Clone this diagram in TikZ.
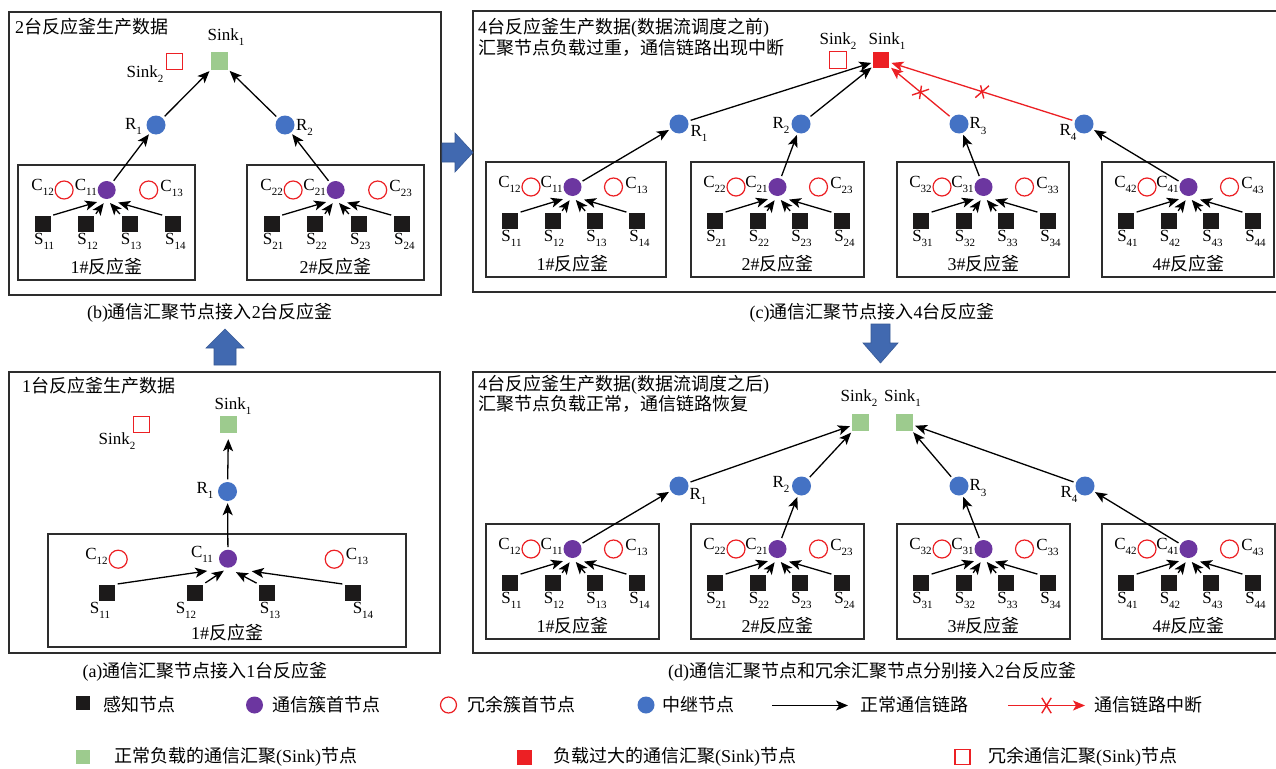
\documentclass[tikz,border=0pt]{standalone}
\usepackage{fontspec}
\setmainfont{Liberation Serif}
\newfontfamily\cjk{Noto Sans CJK SC}
\usetikzlibrary{arrows.meta,shapes.misc}

\definecolor{sensorblack}{RGB}{28,26,26}
\definecolor{cpurple}{RGB}{108,54,160}
\definecolor{rblue}{RGB}{68,114,196}
\definecolor{sgreen}{RGB}{157,203,142}
\definecolor{sred}{RGB}{236,32,36}
\definecolor{framegray}{RGB}{45,45,45}
\definecolor{blockblue}{RGB}{65,105,176}

\newcommand\zh[1]{{\cjk #1}}
\newcommand\subi[1]{\raisebox{-0.3em}{\fontsize{11}{12}\selectfont #1}}

\tikzset{
  lbl/.style={inner sep=0.5pt, font=\fontsize{17}{19}\selectfont},
  ttl/.style={inner sep=0pt, anchor=west, font=\fontsize{18}{20}\selectfont},
  capt/.style={inner sep=0pt, font=\fontsize{18}{20}\selectfont},
  sensor/.style={rectangle, fill=sensorblack, minimum size=16pt, inner sep=0pt},
  chead/.style={circle, fill=cpurple, minimum size=18pt, inner sep=0pt},
  credund/.style={circle, draw=sred, line width=1.2pt, minimum size=18pt, inner sep=0pt},
  relay/.style={circle, fill=rblue, minimum size=19pt, inner sep=0pt},
  sinkok/.style={rectangle, fill=sgreen, minimum size=17pt, inner sep=0pt},
  sinkbad/.style={rectangle, fill=sred, minimum size=16pt, inner sep=0pt},
  sinkspare/.style={rectangle, draw=sred, line width=1.2pt, minimum size=16pt, inner sep=0pt},
  panel/.style={draw=framegray, line width=1.3pt},
  reactorbox/.style={rectangle, draw=framegray, line width=1.3pt, inner sep=0pt, outer sep=0pt},
  tipshape/.style={-{Stealth[length=12pt,width=10pt,inset=3pt]}},
  link/.style={draw=black, line width=1.3pt, tipshape, shorten >=2pt, shorten <=2.5pt},
  brokenlink/.style={draw=sred, line width=1.3pt, tipshape, shorten >=2pt, shorten <=2.5pt},
  xmark/.style={cross out, draw=sred, line width=1.4pt, minimum width=8pt,
    minimum height=14pt, inner sep=0pt, sloped, pos=0.5},
  blockarrow/.style={fill=blockblue, draw=blockblue!85!black, line width=0.6pt},
  % one reactor: #1 index, #2 box width, #3 spacing factor
  pics/reactor/.style n args={3}{code={
    \node[reactorbox, minimum width=#2pt, minimum height=115pt, anchor=north west] (-box) at (0,0) {};
    \node[credund] (-C2) at ({45*#3},25) {};
    \node[chead]   (-C1) at ({86.5*#3},25) {};
    \node[credund] (-C3) at ({127.5*#3},25) {};
    \node[sensor] (-S1) at ({24*#3},59) {};
    \node[sensor] (-S2) at ({66.5*#3},59) {};
    \node[sensor] (-S3) at ({109*#3},59) {};
    \node[sensor] (-S4) at ({151*#3},59) {};
    \node[lbl, anchor=east] (-lC2) at ([yshift=3pt]-C2.west) {C\subi{#12}};
    \node[lbl, anchor=east] (-lC1) at ([yshift=3pt]-C1.west) {C\subi{#11}};
    \node[lbl, anchor=west] (-lC3) at ([xshift=1.5pt,yshift=2pt]-C3.east) {C\subi{#13}};
    \node[lbl, anchor=north] (-lS1) at ([xshift=1.5pt,yshift=-0.5pt]-S1.south) {S\subi{#11}};
    \node[lbl, anchor=north] (-lS2) at ([xshift=1.5pt,yshift=-0.5pt]-S2.south) {S\subi{#12}};
    \node[lbl, anchor=north] (-lS3) at ([xshift=1.5pt,yshift=-0.5pt]-S3.south) {S\subi{#13}};
    \node[lbl, anchor=north] (-lS4) at ([xshift=2.5pt,yshift=-0.5pt]-S4.south) {S\subi{#14}};
    \node[capt] (-name) at ({86.5*#3},102) {#1\#\zh{反应釜}};
    \draw[link, shorten >=10pt] (-S1.north east) -- (-C1.south);
    \draw[link, shorten >=5pt] (-S2.north east) -- (-C1.south);
    \draw[link, shorten >=5pt] (-S3.north west) -- (-C1.south);
    \draw[link, shorten >=12pt] (-S4.north west) -- (-C1.south);
  }}
}

\begin{document}
\begin{tikzpicture}[x=1pt,y=-1pt]
\useasboundingbox (0,0) rectangle (1276,768);
\fill[white] (0,0) rectangle (1276,768);

% ---------- (b) two reactors, one sink ----------
\draw[panel] (9,12) rectangle (441,295);
\node[ttl] (b-title) at (15,26.5) {2\zh{台反应釜生产数据}};
\node[sinkok] (b-sink1) at (219.5,61) {};
\node[sinkspare] (b-sink2) at (174.5,61.5) {};
\node[lbl] (b-sink1l) at (226,37) {Sink\subi{1}};
\node[lbl] (b-sink2l) at (145,74) {Sink\subi{2}};
\node[relay] (b-R1) at (156,125) {};
\node[relay] (b-R2) at (285,125) {};
\node[lbl] (b-R1l) at (133.5,126.5) {R\subi{1}};
\node[lbl] (b-R2l) at (304.5,127) {R\subi{2}};
\pic (b1) at (18,165) {reactor={1}{177}{1.025}};
\pic (b2) at (247,165) {reactor={2}{177}{1.025}};
\draw[link] (b1-C1) -- (b-R1);
\draw[link] (b2-C1) -- (b-R2);
\draw[link] (b-R1) -- (b-sink1);
\draw[link] (b-R2) -- (b-sink1);
\node[capt] (b-cap) at (210,312.5) {(b)\zh{通信汇聚节点接入}2\zh{台反应釜}};

% ---------- (c) four reactors, overloaded sink ----------
\draw[panel] (473,11) rectangle (1284,292);
\node[ttl] (c-title1) at (478,28) {4\zh{台反应釜生产数据}(\zh{数据流调度之前})};
\node[ttl] (c-title2) at (478,47.5) {\zh{汇聚节点负载过重，通信链路出现中断}};
\node[sinkbad] (c-sink1) at (881.3,59.7) {};
\node[sinkspare, minimum size=17pt] (c-sink2) at (837.8,60.3) {};
\node[lbl] (c-sink2l) at (838,41) {Sink\subi{2}};
\node[lbl] (c-sink1l) at (887,41) {Sink\subi{1}};
\node[relay] (c-R1) at (679,124) {};
\node[relay] (c-R2) at (801,124) {};
\node[relay] (c-R3) at (959,124) {};
\node[relay] (c-R4) at (1084,124) {};
\node[lbl] (c-R1l) at (699,133) {R\subi{1}};
\node[lbl] (c-R2l) at (781,125) {R\subi{2}};
\node[lbl] (c-R3l) at (978,126) {R\subi{3}};
\node[lbl] (c-R4l) at (1068,132) {R\subi{4}};
\pic (c1) at (486,162) {reactor={1}{180}{1}};
\pic (c2) at (691,162) {reactor={2}{173}{1}};
\pic (c3) at (897,162) {reactor={3}{172}{1}};
\pic (c4) at (1102,162) {reactor={4}{172}{1}};
\draw[link] (c1-C1) -- (c-R1);
\draw[link] (c2-C1) -- (c-R2);
\draw[link] (c3-C1) -- (c-R3);
\draw[link] (c4-C1) -- (c-R4);
\draw[link] (c-R1) -- (c-sink1);
\draw[link] (c-R2) -- (c-sink1);
\draw[brokenlink] (c-R3) -- node[xmark] {} (c-sink1);
\draw[brokenlink] (c-R4) -- node[xmark] {} (c-sink1);
\node[capt] (c-cap) at (872,312.5) {(c)\zh{通信汇聚节点接入}4\zh{台反应釜}};

% ---------- (a) one reactor ----------
\draw[panel] (9,372) rectangle (440,653);
\node[ttl] (a-title) at (22,386) {1\zh{台反应釜生产数据}};
\node[sinkok] (a-sink1) at (228.5,424.5) {};
\node[sinkspare] (a-sink2) at (141.5,424.5) {};
\node[lbl] (a-sink1l) at (233,406) {Sink\subi{1}};
\node[lbl] (a-sink2l) at (117,441) {Sink\subi{2}};
\node[relay] (a-R1) at (227.5,491.5) {};
\node[lbl] (a-R1l) at (205,490) {R\subi{1}};
\node[reactorbox, minimum width=358pt, minimum height=113pt, anchor=north west] (a-box) at (48,534) {};
\node[chead] (a-C1) at (228,558.7) {};
\node[credund] (a-C2) at (118.2,559.2) {};
\node[credund] (a-C3) at (334.2,559.2) {};
\node[lbl] (a-lC1) at (202,554) {C\subi{11}};
\node[lbl] (a-lC2) at (96.5,556) {C\subi{12}};
\node[lbl] (a-lC3) at (357,556) {C\subi{13}};
\node[sensor] (a-S1) at (107,592.5) {};
\node[sensor] (a-S2) at (195,592.5) {};
\node[sensor] (a-S3) at (267,592.5) {};
\node[sensor] (a-S4) at (353,592.5) {};
\node[lbl] (a-lS1) at (100,610) {S\subi{11}};
\node[lbl] (a-lS2) at (186,610) {S\subi{12}};
\node[lbl] (a-lS3) at (270,610) {S\subi{13}};
\node[lbl] (a-lS4) at (363,610) {S\subi{14}};
\node[capt] (a-name) at (227,633) {1\#\zh{反应釜}};
\draw[link, shorten >=21pt] (a-S1.north east) -- (a-C1.south);
\draw[link, shorten >=5pt] (a-S2.north east) -- (a-C1.south);
\draw[link, shorten >=9pt] (a-S3.north west) -- (a-C1.south);
\draw[link, shorten >=24pt] (a-S4.north west) -- (a-C1.south);
\draw[link] (a-C1) -- (a-R1);
\draw[link, shorten >=6pt] (a-R1) -- (a-sink1);
\node[capt] (a-cap) at (205,672) {(a)\zh{通信汇聚节点接入}1\zh{台反应釜}};

% ---------- (d) four reactors, two sinks ----------
\draw[panel] (473,372) rectangle (1284,653);
\node[ttl] (d-title1) at (478,385) {4\zh{台反应釜生产数据}(\zh{数据流调度之后})};
\node[ttl] (d-title2) at (478,404) {\zh{汇聚节点负载正常，通信链路恢复}};
\node[sinkok] (d-sink2) at (860.5,422.5) {};
\node[sinkok] (d-sink1) at (904.5,422) {};
\node[lbl] (d-sink2l) at (859,398) {Sink\subi{2}};
\node[lbl] (d-sink1l) at (902.5,398) {Sink\subi{1}};
\node[relay] (d-R1) at (679,486) {};
\node[relay] (d-R2) at (801.5,486) {};
\node[relay] (d-R3) at (959,486) {};
\node[relay] (d-R4) at (1085,486) {};
\node[lbl] (d-R1l) at (698,496) {R\subi{1}};
\node[lbl] (d-R2l) at (781,484) {R\subi{2}};
\node[lbl] (d-R3l) at (978,488) {R\subi{3}};
\node[lbl] (d-R4l) at (1069,494) {R\subi{4}};
\pic (d1) at (486,524) {reactor={1}{173}{1}};
\pic (d2) at (691,524) {reactor={2}{173}{1}};
\pic (d3) at (897,524) {reactor={3}{173}{1}};
\pic (d4) at (1102,524) {reactor={4}{173}{1}};
\draw[link] (d1-C1) -- (d-R1);
\draw[link] (d2-C1) -- (d-R2);
\draw[link] (d3-C1) -- (d-R3);
\draw[link] (d4-C1) -- (d-R4);
\draw[link] (d-R1) -- (d-sink2);
\draw[link] (d-R2) -- (d-sink2);
\draw[link] (d-R3) -- (d-sink1);
\draw[link] (d-R4) -- (d-sink1);
\node[capt] (d-cap) at (872,672) {(d)\zh{通信汇聚节点和冗余汇聚节点分别接入}2\zh{台反应釜}};

% ---------- block arrows between the panels ----------
\fill[blockarrow] (442,143) -- (455,143) -- (455,133) -- (473,152.5) -- (455,172)
  -- (455,162) -- (442,162) -- cycle;
\fill[blockarrow] (214,365) -- (214,348) -- (206,348) -- (225,329) -- (244,348)
  -- (236,348) -- (236,365) -- cycle;
\fill[blockarrow] (871,324) -- (890,324) -- (890,343) -- (898,343) -- (880.5,363)
  -- (863,343) -- (871,343) -- cycle;

% ---------- legend ----------
\node[sensor, minimum size=14pt] (lg-sensor) at (83,703) {};
\node[ttl] (lg-sensor-t) at (103,705) {\zh{感知节点}};
\node[chead, minimum size=17pt] (lg-head) at (254.5,705) {};
\node[ttl] (lg-head-t) at (272.5,705) {\zh{通信簇首节点}};
\node[credund, minimum size=16pt] (lg-spare) at (448.5,705) {};
\node[ttl] (lg-spare-t) at (467,705) {\zh{冗余簇首节点}};
\node[relay, minimum size=17pt] (lg-relay) at (646,705) {};
\node[ttl] (lg-relay-t) at (662,705) {\zh{中继节点}};
\coordinate (lg-a1) at (772,705.5);
\coordinate (lg-a2) at (848,705.5);
\draw[link, shorten <=0pt, shorten >=0pt] (lg-a1) -- (lg-a2);
\node[ttl] (lg-link-t) at (860,705) {\zh{正常通信链路}};
\coordinate (lg-b1) at (1008,705.5);
\coordinate (lg-b2) at (1085,705.5);
\draw[brokenlink, shorten <=0pt, shorten >=0pt] (lg-b1) -- node[xmark] {} (lg-b2);
\node[ttl] (lg-broken-t) at (1094,705) {\zh{通信链路中断}};
\node[sinkok, minimum size=14pt] (lg-sinkok) at (83,757) {};
\node[ttl] (lg-sinkok-t) at (114,757) {\zh{正常负载的通信汇聚}(Sink)\zh{节点}};
\node[sinkbad, minimum size=15pt] (lg-sinkbad) at (524.5,757) {};
\node[ttl] (lg-sinkbad-t) at (553,757) {\zh{负载过大的通信汇聚}(Sink)\zh{节点}};
\node[sinkspare, minimum size=15pt] (lg-sinkspare) at (962.5,757) {};
\node[ttl] (lg-sinkspare-t) at (988,757) {\zh{冗余通信汇聚}(Sink)\zh{节点}};
\end{tikzpicture}
\end{document}
